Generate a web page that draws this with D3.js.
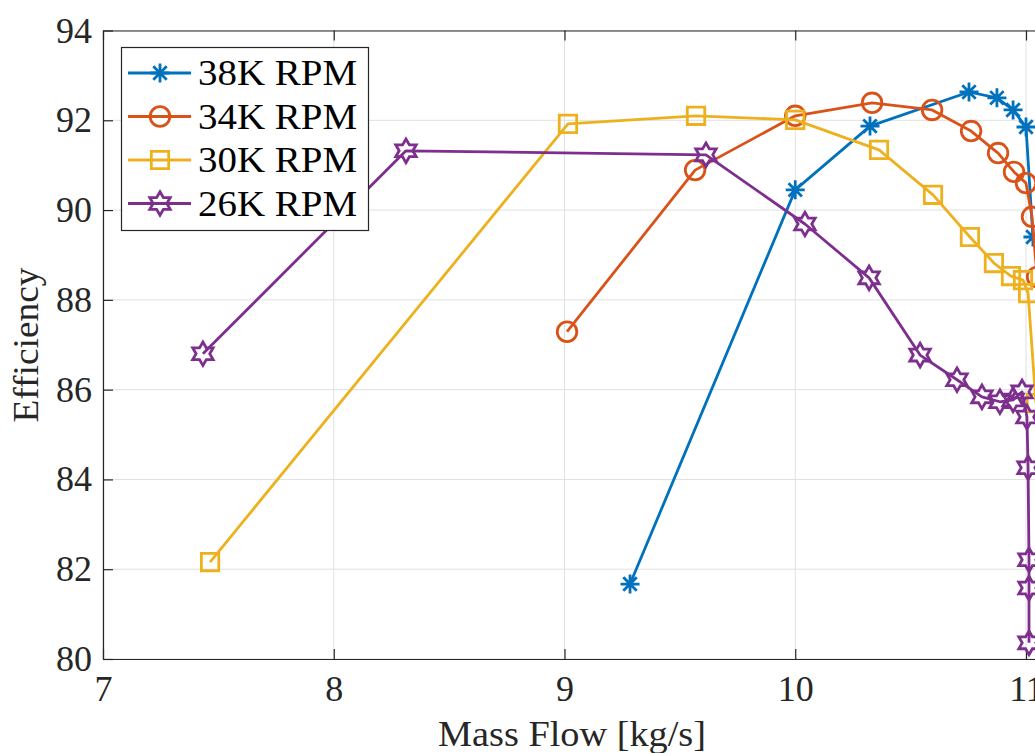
<!DOCTYPE html>
<html><head><meta charset="utf-8">
<script src="https://cdn.jsdelivr.net/npm/d3@7"></script>
<style>
body{margin:0;background:#fff;overflow:hidden;}
svg{display:block;}
svg text{font-family:"Liberation Serif","DejaVu Serif",serif !important;}
</style>
</head><body><svg id="c" width="1035" height="753"></svg>
<script>
const xTicks = [7, 8, 9, 10, 11, 12];
const yTicks = [80, 82, 84, 86, 88, 90, 92, 94];
const seriesNames = ["38K RPM", "34K RPM", "30K RPM", "26K RPM"];
const rpm38Mass = [9.284, 10.00, 10.324, 10.753, 10.874, 10.944, 11.00, 11.03];
const rpm38Eff  = [81.67, 90.45, 91.87, 92.63, 92.50, 92.23, 91.85, 89.40];
const rpm34Mass = [9.011, 9.566, 10.00, 10.333, 10.593, 10.762, 10.879, 10.948, 11.00, 11.026, 11.048];
const rpm34Eff  = [87.29, 90.89, 92.10, 92.39, 92.23, 91.76, 91.27, 90.85, 90.60, 89.85, 88.51];
const rpm30Mass = [7.464, 9.015, 9.570, 10.00, 10.363, 10.597, 10.757, 10.861, 10.935, 10.987, 11.009, 11.043];
const rpm30Eff  = [82.16, 91.92, 92.10, 92.01, 91.34, 90.34, 89.40, 88.82, 88.53, 88.44, 88.15, 85.70];
const rpm26Mass = [7.433, 8.313, 9.613, 10.042, 10.320, 10.541, 10.701, 10.809, 10.887, 10.944, 10.983, 11.004, 11.009, 11.013, 11.013, 11.013];
const rpm26Eff  = [86.80, 91.32, 91.23, 89.69, 88.49, 86.77, 86.22, 85.84, 85.73, 85.77, 85.95, 85.39, 84.26, 82.21, 81.58, 80.36];

const colors = ["#0072BD", "#D95319", "#EDB120", "#7E2F8E"];
const markers = ["asterisk", "circle", "square", "hexagram"];
const seriesData = [
  [rpm38Mass, rpm38Eff], [rpm34Mass, rpm34Eff], [rpm30Mass, rpm30Eff], [rpm26Mass, rpm26Eff]
];

const FONT = "Liberation Serif";
const svg = d3.select("#c");
const x0 = 103, unitX = 230.75;
const x = d3.scaleLinear().domain([7, 12]).range([x0, x0 + 5 * unitX]);
const y = d3.scaleLinear().domain([80, 94]).range([659, 30.5]);
const axisColor = "#262626";
const LW = 2.8;

// grid
const grid = svg.append("g");
grid.selectAll("line.vx").data(xTicks).join("line")
  .attr("x1", d => x(d)).attr("x2", d => x(d)).attr("y1", y(80)).attr("y2", y(94))
  .attr("stroke", "#e0e0e0").attr("stroke-width", 1);
grid.selectAll("line.hy").data(yTicks).join("line")
  .attr("x1", x(7)).attr("x2", x(12)).attr("y1", d => y(d)).attr("y2", d => y(d))
  .attr("stroke", "#e0e0e0").attr("stroke-width", 1);

// axes
function styleAxis(g) {
  g.attr("font-family", FONT);
  g.selectAll("path.domain").attr("stroke", axisColor).attr("stroke-width", 1.2);
  g.selectAll(".tick line").attr("stroke", axisColor).attr("stroke-width", 1.2);
  g.selectAll(".tick text").attr("fill", axisColor).style("font-family", FONT).attr("font-size", 36);
}
const xAxis = svg.append("g").attr("transform", `translate(0,${y(80)})`)
  .call(d3.axisBottom(x).tickValues(xTicks).tickFormat(d3.format("d")).tickSizeInner(-10).tickSizeOuter(0).tickPadding(16));
styleAxis(xAxis);
const xAxisTop = svg.append("g").attr("transform", `translate(0,${y(94)})`)
  .call(d3.axisTop(x).tickValues(xTicks).tickFormat("").tickSizeInner(-10).tickSizeOuter(0));
styleAxis(xAxisTop);
const yAxis = svg.append("g").attr("transform", `translate(${x(7)},0)`)
  .call(d3.axisLeft(y).tickValues(yTicks).tickFormat(d3.format("d")).tickSizeInner(-10).tickSizeOuter(0).tickPadding(11));
styleAxis(yAxis);
const yAxisRight = svg.append("g").attr("transform", `translate(${x(12)},0)`)
  .call(d3.axisRight(y).tickValues(yTicks).tickFormat("").tickSizeInner(-10).tickSizeOuter(0));
styleAxis(yAxisRight);

// markers
function hexagramPath(R) {
  const r = R / Math.sqrt(3);
  const pts = [];
  for (let i = 0; i < 12; i++) {
    const a = (-90 + i * 30) * Math.PI / 180;
    const rr = i % 2 === 0 ? R : r;
    pts.push([rr * Math.cos(a), rr * Math.sin(a)]);
  }
  return "M" + pts.map(p => p[0].toFixed(2) + "," + p[1].toFixed(2)).join("L") + "Z";
}
function asteriskPath(R) {
  const d = R * Math.SQRT1_2;
  return `M${-R},0L${R},0M0,${-R}L0,${R}M${-d},${-d}L${d},${d}M${-d},${d}L${d},${-d}`;
}
function circlePath(r) {
  const p = d3.path(); p.arc(0, 0, r, 0, 2 * Math.PI); p.closePath(); return p.toString();
}
function markerPath(type) {
  if (type === "asterisk") return asteriskPath(9.5);
  if (type === "circle") return circlePath(9.8);
  if (type === "square") return "M-8.7,-8.7L8.7,-8.7L8.7,8.7L-8.7,8.7Z";
  return hexagramPath(11.8);
}

const line = d3.line().x(d => x(d[0])).y(d => y(d[1]));
seriesData.forEach((s, i) => {
  const pts = s[0].map((m, j) => [m, s[1][j]]);
  const g = svg.append("g");
  g.append("path").datum(pts).attr("d", line).attr("fill", "none")
    .attr("stroke", colors[i]).attr("stroke-width", LW).attr("stroke-linejoin", "round");
  g.selectAll("path.mk").data(pts).join("path").attr("class", "mk")
    .attr("transform", d => `translate(${x(d[0])},${y(d[1])})`)
    .attr("d", markerPath(markers[i])).attr("fill", "none")
    .attr("stroke", colors[i]).attr("stroke-width", LW).attr("stroke-linejoin", "miter");
});

// legend
const lg = svg.append("g");
lg.append("rect").attr("x", 121.5).attr("y", 47.5).attr("width", 247).attr("height", 183)
  .attr("fill", "#fff").attr("stroke", axisColor).attr("stroke-width", 1.2);
const rowY = [73, 116.5, 160, 203.5];
seriesNames.forEach((name, i) => {
  lg.append("line").attr("x1", 128).attr("x2", 191).attr("y1", rowY[i]).attr("y2", rowY[i])
    .attr("stroke", colors[i]).attr("stroke-width", LW);
  lg.append("path").attr("transform", `translate(160,${rowY[i]})`).attr("d", markerPath(markers[i]))
    .attr("fill", "none").attr("stroke", colors[i]).attr("stroke-width", LW);
  lg.append("text").attr("x", 198).attr("y", rowY[i]).attr("dy", "0.34em")
    .style("font-family", FONT).attr("font-size", 36).attr("fill", "#000")
    .attr("textLength", 159).attr("lengthAdjust", "spacingAndGlyphs").text(name);
});

// axis labels
svg.append("text").attr("x", 572).attr("y", 746).attr("text-anchor", "middle")
  .style("font-family", FONT).attr("font-size", 36).attr("fill", axisColor)
  .attr("textLength", 268).attr("lengthAdjust", "spacingAndGlyphs").text("Mass Flow [kg/s]");
svg.append("text").attr("transform", "translate(38,345) rotate(-90)").attr("text-anchor", "middle")
  .style("font-family", FONT).attr("font-size", 36).attr("fill", axisColor)
  .attr("textLength", 155).attr("lengthAdjust", "spacingAndGlyphs").text("Efficiency");
</script>
</body></html>
